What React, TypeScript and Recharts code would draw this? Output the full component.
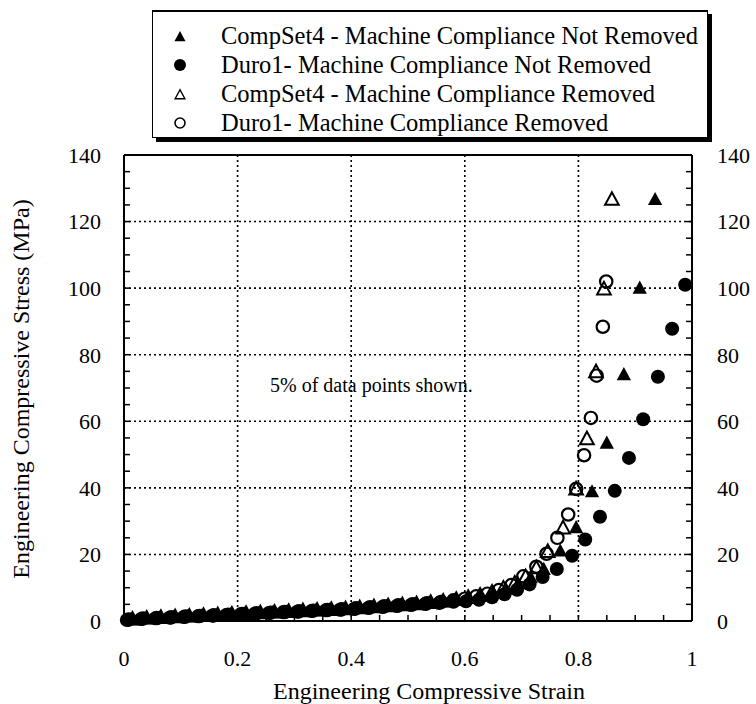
import React from 'react';
import {
  ScatterChart, Scatter, XAxis, YAxis, CartesianGrid, Customized,
} from 'recharts';

// ─── Data ─────────────────────────────────────────────────────────────────────

const X_TICKS = [0, 0.05, 0.1, 0.15, 0.2, 0.25, 0.3, 0.35, 0.4, 0.45, 0.5, 0.55, 0.6, 0.65, 0.7, 0.75, 0.8, 0.85, 0.9, 0.95, 1];
const X_LABELS = [0, 0.2, 0.4, 0.6, 0.8, 1];
const Y_TICKS = [0, 5, 10, 15, 20, 25, 30, 35, 40, 45, 50, 55, 60, 65, 70, 75, 80, 85, 90, 95, 100, 105, 110, 115, 120, 125, 130, 135, 140];
const Y_LABELS = [0, 20, 40, 60, 80, 100, 120, 140];

// CompSet4 - machine compliance not removed (filled triangles)
const COMP_NR_X = [0.012, 0.037, 0.062, 0.087, 0.112, 0.137, 0.162, 0.187, 0.212, 0.237, 0.262, 0.287, 0.312, 0.337, 0.362, 0.387, 0.412, 0.437, 0.462, 0.487, 0.512, 0.537, 0.56, 0.583, 0.605, 0.627, 0.65, 0.672, 0.694, 0.716, 0.739, 0.768, 0.796, 0.824, 0.85, 0.88, 0.908, 0.935];
const COMP_NR_Y = [0.4, 0.7, 0.9, 1.1, 1.3, 1.5, 1.7, 1.9, 2.1, 2.3, 2.5, 2.7, 2.9, 3.1, 3.3, 3.5, 3.8, 4.1, 4.4, 4.7, 5.0, 5.4, 5.8, 6.3, 6.8, 7.5, 8.4, 9.6, 11.2, 13.0, 15.5, 21, 28, 38.8, 53.4, 74, 100, 126.6];

// Duro1 - machine compliance not removed (filled circles)
const DURO_NR_X = [0.005, 0.03, 0.055, 0.08, 0.105, 0.13, 0.155, 0.18, 0.205, 0.23, 0.255, 0.28, 0.305, 0.33, 0.355, 0.38, 0.405, 0.43, 0.455, 0.48, 0.505, 0.53, 0.555, 0.58, 0.602, 0.625, 0.648, 0.67, 0.692, 0.714, 0.737, 0.762, 0.789, 0.812, 0.838, 0.864, 0.889, 0.914, 0.94, 0.965, 0.988];
const DURO_NR_Y = [0.3, 0.6, 0.8, 1.0, 1.2, 1.4, 1.6, 1.8, 2.0, 2.2, 2.4, 2.6, 2.8, 3.0, 3.2, 3.4, 3.6, 3.9, 4.2, 4.5, 4.8, 5.1, 5.4, 5.8, 5.9, 6.4, 7.1, 8.0, 9.4, 11.0, 13.2, 15.6, 19.6, 24.5, 31.3, 39.1, 49.0, 60.6, 73.4, 87.8, 101];

// CompSet4 - machine compliance removed (open triangles)
const COMP_R_X = [0.015, 0.04, 0.065, 0.09, 0.115, 0.14, 0.165, 0.19, 0.215, 0.24, 0.265, 0.29, 0.315, 0.34, 0.365, 0.39, 0.415, 0.44, 0.465, 0.49, 0.515, 0.54, 0.562, 0.585, 0.606, 0.627, 0.648, 0.668, 0.688, 0.707, 0.726, 0.746, 0.773, 0.796, 0.815, 0.831, 0.845, 0.859];
const COMP_R_Y = [0.5, 0.8, 1.0, 1.2, 1.4, 1.6, 1.8, 2.0, 2.2, 2.4, 2.6, 2.8, 3.0, 3.2, 3.4, 3.6, 3.9, 4.2, 4.5, 4.8, 5.1, 5.5, 5.9, 6.4, 7.0, 7.7, 8.6, 9.8, 11.3, 13.2, 15.9, 20.8, 27.9, 39.6, 54.7, 74.8, 99.7, 126.6];

// Duro1 - machine compliance removed (open circles)
const DURO_R_X = [0.008, 0.033, 0.058, 0.083, 0.108, 0.133, 0.158, 0.183, 0.208, 0.233, 0.258, 0.283, 0.308, 0.333, 0.358, 0.383, 0.408, 0.433, 0.458, 0.483, 0.508, 0.533, 0.558, 0.58, 0.6, 0.62, 0.64, 0.66, 0.682, 0.703, 0.726, 0.744, 0.763, 0.782, 0.796, 0.81, 0.822, 0.832, 0.843, 0.849];
const DURO_R_Y = [0.4, 0.7, 0.9, 1.1, 1.3, 1.5, 1.7, 1.9, 2.1, 2.3, 2.5, 2.7, 2.9, 3.1, 3.3, 3.5, 3.8, 4.1, 4.4, 4.7, 5.0, 5.3, 5.7, 6.2, 6.7, 7.4, 8.2, 9.3, 10.8, 13.4, 16.3, 20.2, 25, 32, 39.7, 49.8, 61, 73.7, 88.4, 102];

const SERIES_NAMES = [
  'CompSet4 - Machine Compliance Not Removed',
  'Duro1- Machine Compliance Not Removed',
  'CompSet4 - Machine Compliance Removed',
  'Duro1- Machine Compliance Removed',
];

const toPoints = (xs: number[], ys: number[]) => xs.map((x, i) => ({ x, y: ys[i] }));

const compNR = toPoints(COMP_NR_X, COMP_NR_Y);
const duroNR = toPoints(DURO_NR_X, DURO_NR_Y);
const compR = toPoints(COMP_R_X, COMP_R_Y);
const duroR = toPoints(DURO_R_X, DURO_R_Y);

// ─── Markers ──────────────────────────────────────────────────────────────────

const FONT = "'Liberation Serif', 'Times New Roman', serif";
const serif = { fontFamily: FONT };

const triPoints = (cx: number, cy: number, s = 1) =>
  `${cx},${cy - 7 * s} ${cx - 6.5 * s},${cy + 5 * s} ${cx + 6.5 * s},${cy + 5 * s}`;

const FilledTri = (p: any) => <polygon points={triPoints(p.cx, p.cy, 1.1)} fill="#000" />;
const OpenTri = (p: any) => (
  <polygon points={triPoints(p.cx, p.cy, 1.05)} fill="none" stroke="#000" strokeWidth={2} />
);
const FilledDot = (p: any) => <circle cx={p.cx} cy={p.cy} r={7} fill="#000" />;
const OpenDot = (p: any) => <circle cx={p.cx} cy={p.cy} r={6.2} fill="none" stroke="#000" strokeWidth={2.2} />;
const NoMark = () => <g />;

const LEGEND_MARKS = [
  <polygon key="a" points={triPoints(8, 9, 0.85)} fill="#000" />,
  <circle key="b" cx={8} cy={8} r={6} fill="#000" />,
  <polygon key="c" points={triPoints(8, 9, 0.75)} fill="#fff" stroke="#000" strokeWidth={1.4} />,
  <circle key="d" cx={8} cy={8} r={5} fill="#fff" stroke="#000" strokeWidth={1.6} />,
];

// ─── Chart ────────────────────────────────────────────────────────────────────

const tickStyle = { fontSize: 22, fill: '#000', style: serif };
const xFmt = (v: number) => (X_LABELS.includes(v) ? String(v) : '');
const yFmt = (v: number) => (Y_LABELS.includes(v) ? String(v) : '');
const axisLine = { stroke: '#000', strokeWidth: 2 };
const tickLine = { stroke: '#000', strokeWidth: 1.5 };

const XTitle = () => (
  <text x={429} y={699} textAnchor="middle" fontSize={24} style={serif} fill="#000">
    Engineering Compressive Strain
  </text>
);

const YTitle = () => (
  <text
    x={21} y={389} textAnchor="middle" dominantBaseline="central"
    transform="rotate(-90, 21, 389)" fontSize={24} style={serif} fill="#000"
  >
    Engineering Compressive Stress (MPa)
  </text>
);

const Note = () => (
  <text x={270} y={392} fontSize={20} style={serif} fill="#000">
    5% of data points shown.
  </text>
);

export default function App() {
  return (
    <div style={{ position: 'absolute', left: 0, top: 0, width: 756, height: 704, background: '#fff', fontFamily: FONT }}>
      <ScatterChart width={756} height={704} margin={{ top: 145, right: 24, bottom: 53, left: 84 }} style={serif}>
        <CartesianGrid
          verticalValues={X_LABELS} horizontalValues={Y_LABELS}
          stroke="#000" strokeWidth={1.6} strokeDasharray="2 3"
        />
        <XAxis
          type="number" dataKey="x" domain={[0, 1]} ticks={X_TICKS} interval={0} height={30}
          tickFormatter={xFmt} tick={tickStyle} tickSize={-6} tickMargin={35}
          axisLine={axisLine} tickLine={tickLine}
        />
        <XAxis
          xAxisId="top" orientation="top" type="number" dataKey="x" domain={[0, 1]} ticks={X_TICKS}
          interval={0} height={10} tick={false} tickSize={-6}
          axisLine={axisLine} tickLine={tickLine}
        />
        <YAxis
          type="number" dataKey="y" domain={[0, 140]} ticks={Y_TICKS} interval={0} width={40}
          tickFormatter={yFmt} tick={tickStyle} tickSize={-6} tickMargin={29}
          axisLine={axisLine} tickLine={tickLine}
        />
        <YAxis
          yAxisId="right" orientation="right" type="number" dataKey="y" domain={[0, 140]} ticks={Y_TICKS}
          interval={0} width={40} tickFormatter={yFmt} tick={tickStyle} tickSize={-6} tickMargin={31}
          axisLine={axisLine} tickLine={tickLine}
        />
        <Scatter xAxisId="top" yAxisId="right" data={duroNR} shape={NoMark} legendType="none" isAnimationActive={false} />
        <Scatter name={SERIES_NAMES[0]} data={compNR} shape={FilledTri} isAnimationActive={false} />
        <Scatter name={SERIES_NAMES[1]} data={duroNR} shape={FilledDot} isAnimationActive={false} />
        <Scatter name={SERIES_NAMES[2]} data={compR} shape={OpenTri} isAnimationActive={false} />
        <Scatter name={SERIES_NAMES[3]} data={duroR} shape={OpenDot} isAnimationActive={false} />
        <Customized component={Note} />
        <Customized component={XTitle} />
        <Customized component={YTitle} />
      </ScatterChart>

      {/* legend box with drop shadow */}
      <div
        style={{
          position: 'absolute', left: 152, top: 10, width: 556, height: 128,
          borderTop: '2px solid #000', borderLeft: '1px solid #000',
          borderRight: '1.5px solid #000', borderBottom: '1.5px solid #000',
          boxShadow: '4px 4px 0 #000', background: '#fff',
          boxSizing: 'border-box', paddingTop: 9, fontSize: 24.5,
          overflow: 'hidden',
        }}
      >
        {SERIES_NAMES.map((name, i) => (
          <div key={name} style={{ height: 29, display: 'flex', alignItems: 'center', whiteSpace: 'nowrap' }}>
            <svg width={16} height={16} style={{ marginLeft: 19, marginRight: 33 }}>
              {LEGEND_MARKS[i]}
            </svg>
            <span>{name}</span>
          </div>
        ))}
      </div>
    </div>
  );
}
